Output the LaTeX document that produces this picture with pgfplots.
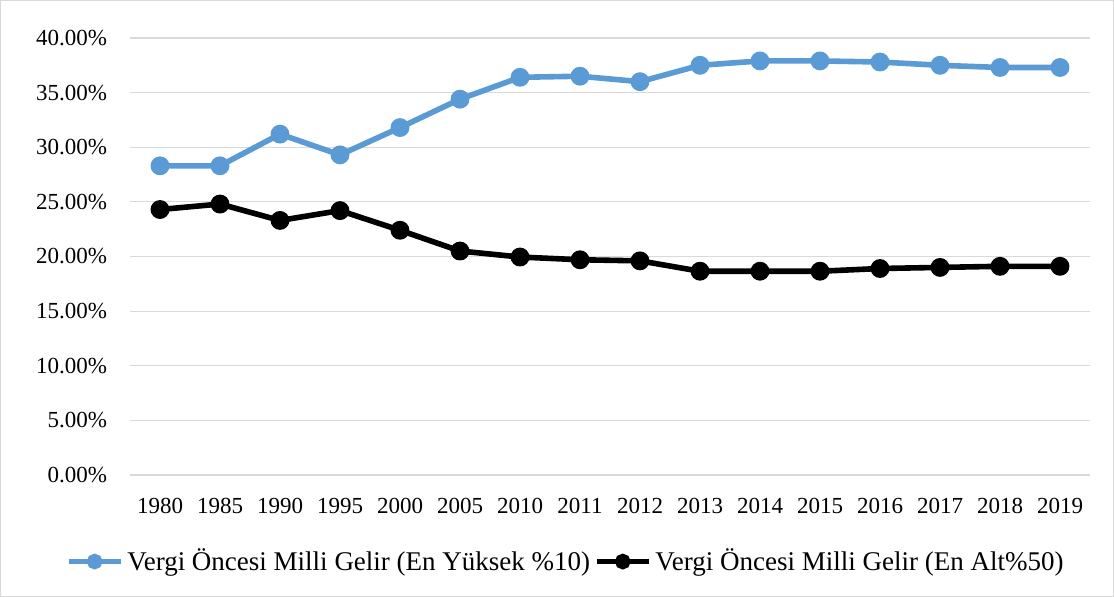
\documentclass[border=0pt]{standalone}
\usepackage{fontspec}
\setmainfont{Liberation Serif}
\usepackage{pgfplots}
\pgfplotsset{compat=1.18}
\definecolor{topblue}{HTML}{5B9BD5}
\definecolor{gridgray}{HTML}{D9D9D9}

\begin{document}
\begin{tikzpicture}
% chart area (1114 x 597 px at 0.5pt per px)
\draw[gridgray, line width=0.5pt] (0.25pt,0.25pt) rectangle (556.75pt,298.25pt);
\begin{axis}[
  at={(65pt,61pt)}, anchor=south west,
  scale only axis, width=480pt, height=218.5pt,
  font=\fontsize{11.5}{13}\selectfont,
  /pgf/number format/assume math mode=true,
  xmin=-0.5, xmax=15.5, ymin=0, ymax=40,
  xtick={0,...,15},
  xticklabels={1980,1985,1990,1995,2000,2005,2010,2011,2012,2013,2014,2015,2016,2017,2018,2019},
  ytick={0,5,...,40},
  yticklabel={\pgfmathprintnumber[fixed,fixed zerofill,precision=2]{\tick}\%},
  ymajorgrids, grid style={gridgray, line width=0.6pt},
  axis line style={draw=none},
  axis x line*=bottom, axis y line*=left,
  major tick length=0pt,
  xticklabel style={yshift=-8pt},
  yticklabel style={xshift=-8pt},
  legend style={at={(0.455,-0.155)}, anchor=north, draw=none, legend columns=2,
    font=\fontsize{13.5}{15}\selectfont, inner sep=1pt,
    /tikz/every even column/.append style={column sep=0pt}},
  legend image code/.code={
    \draw[#1, line width=2.6pt, mark size=2.6pt, mark repeat=2, mark phase=2]
      plot coordinates {(-4pt,0pt) (9pt,0pt) (22pt,0pt)};},
]
\addplot[topblue, line width=2.8pt, mark=*, mark size=3.3pt] coordinates {
 (0,28.3) (1,28.3) (2,31.2) (3,29.3) (4,31.8) (5,34.4) (6,36.4) (7,36.5)
 (8,36.0) (9,37.5) (10,37.9) (11,37.9) (12,37.8) (13,37.5) (14,37.3) (15,37.3)};
\addlegendentry{Vergi Öncesi Milli Gelir (En Yüksek \%10)}
\addplot[black, line width=2.8pt, mark=*, mark size=3.3pt] coordinates {
 (0,24.3) (1,24.8) (2,23.3) (3,24.2) (4,22.4) (5,20.5) (6,19.95) (7,19.7)
 (8,19.6) (9,18.65) (10,18.65) (11,18.65) (12,18.9) (13,19.0) (14,19.1) (15,19.1)};
\addlegendentry{Vergi Öncesi Milli Gelir (En Alt\%50)}
\end{axis}
\end{tikzpicture}
\end{document}
